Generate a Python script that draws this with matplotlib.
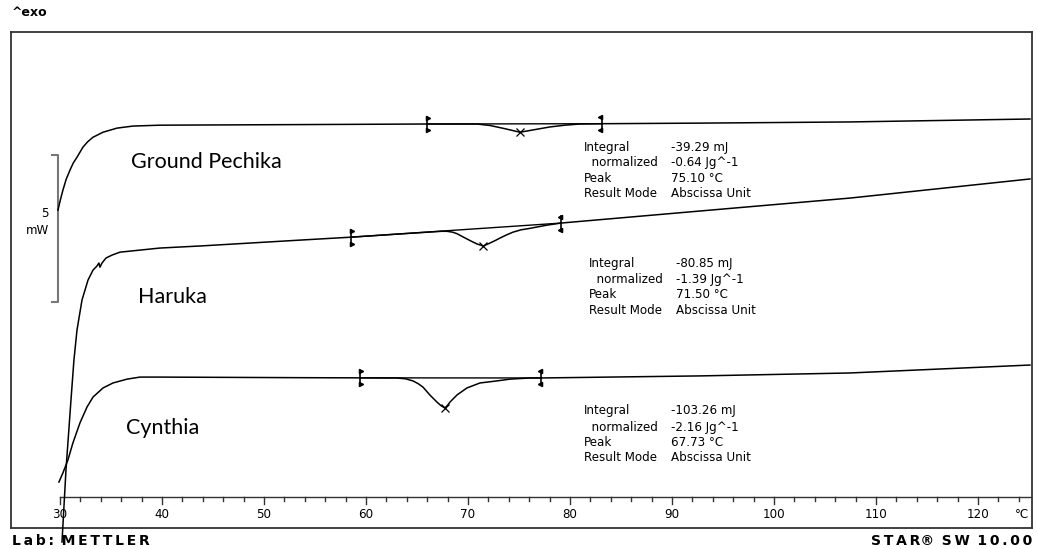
import numpy as np
import matplotlib.pyplot as plt

# heat flow curves (temperature in °C, heat flow in mW, arbitrary offset)
gp_t = [29.80, 30.05, 30.29, 30.60, 30.98, 31.30, 31.67, 32.25, 32.70, 33.24, 34.22, 35.59,
        37.16, 39.80, 53.53, 65.98, 70.88, 72.16, 73.63, 75.10, 76.57, 78.04, 79.51, 80.98,
        83.14, 92.75, 107.45, 125.10]
gp_hf = [9.76, 10.12, 10.44, 10.80, 11.12, 11.36, 11.56, 11.90, 12.08, 12.24, 12.41, 12.55,
         12.62, 12.65, 12.67, 12.69, 12.69, 12.64, 12.53, 12.41, 12.50, 12.59, 12.65, 12.69,
         12.70, 12.72, 12.76, 12.86]

ha_t = [30.20, 30.59, 31.08, 31.37, 31.67, 32.16, 32.75, 33.24, 33.63, 33.82, 33.92, 34.12,
        34.51, 35.10, 35.88, 37.84, 39.80, 43.73, 48.63, 53.53, 58.53, 63.33, 67.40, 67.94,
        68.50, 68.92, 69.40, 69.90, 70.40, 70.88, 71.50, 72.16, 72.70, 73.14, 73.80, 74.41,
        75.20, 76.08, 77.75, 79.12, 92.75, 107.45, 125.10]
ha_hf = [-1.53, 0.92, 3.30, 4.66, 5.68, 6.70, 7.38, 7.72, 7.86, 7.96, 7.82, 7.96,
         8.13, 8.23, 8.33, 8.40, 8.47, 8.54, 8.64, 8.74, 8.84, 8.95, 9.04, 9.04,
         9.01, 8.96, 8.87, 8.78, 8.69, 8.61, 8.54, 8.64, 8.73, 8.81, 8.92, 9.01,
         9.09, 9.14, 9.25, 9.32, 9.73, 10.17, 10.82]

cy_t = [29.90, 30.29, 30.78, 31.27, 31.96, 32.65, 33.24, 34.22, 35.20, 36.57, 37.84, 39.80,
        53.53, 63.04, 63.90, 64.61, 65.10, 65.59, 66.27, 66.96, 67.35, 67.73, 68.00, 68.24,
        68.92, 69.90, 71.18, 72.84, 74.12, 76.08, 77.16, 92.75, 107.45, 125.10]
cy_hf = [0.51, 0.82, 1.26, 1.84, 2.52, 3.06, 3.40, 3.71, 3.88, 4.01, 4.08, 4.08,
         4.06, 4.05, 4.02, 3.95, 3.86, 3.74, 3.47, 3.23, 3.11, 3.03, 3.12, 3.23,
         3.47, 3.71, 3.88, 3.95, 4.01, 4.05, 4.05, 4.12, 4.22, 4.49]

names = ['Ground Pechika', 'Haruka', 'Cynthia']
limits = [(66.0, 83.1), (58.5, 79.1), (59.4, 77.2)]
peaks = [75.10, 71.50, 67.73]
integrals = ['-39.29 mJ', '-80.85 mJ', '-103.26 mJ']
normalized = ['-0.64 Jg^-1', '-1.39 Jg^-1', '-2.16 Jg^-1']

fig = plt.figure(figsize=(10.37, 5.49), dpi=100)
ax = fig.add_axes([11/1037, 21/549, 1021/1037, 496/549])
ax.set_xlim(25.2, 125.3)
ax.set_ylim(-1.054, 15.82)
ax.set_xticks([])
ax.set_yticks([])
for s in ax.spines.values():
    s.set_color('#333333')
    s.set_linewidth(1.3)

curves = [(gp_t, gp_hf), (ha_t, ha_hf), (cy_t, cy_hf)]
for (t, hf), (t1, t2), pk in zip(curves, limits, peaks):
    ax.plot(t, hf, color='black', lw=1.1, clip_on=False, zorder=3)
    y1, y2 = np.interp([t1, t2], t, hf)
    ax.plot([t1, t2], [y1, y2], color='black', lw=1.0, zorder=3)
    # integration limit brackets
    for tx, yy, m, d in [(t1, y1, '>', 0.12), (t2, y2, '<', -0.12)]:
        ax.plot([tx, tx], [yy - 0.24, yy + 0.24], color='black', lw=1.2)
        ax.plot([tx + d, tx + d], [yy - 0.22, yy + 0.22], ls='none', marker=m,
                ms=3, color='black')
    ax.plot(pk, np.interp(pk, t, hf), marker='x', ms=6, mew=0.9, color='black', zorder=4)

# sample names
name_pos = [(36.96, 11.39), (37.65, 6.80), (36.47, 2.35)]
for n, (x, y) in zip(names, name_pos):
    ax.text(x, y, n, fontsize=15.5, family='Lato', va='center', ha='left')

# result blocks
blocks = [(81.37, 89.90, [11.90, 11.39, 10.85, 10.31]),
          (81.86, 90.39, [7.96, 7.41, 6.90, 6.36]),
          (81.37, 89.90, [2.93, 2.38, 1.87, 1.33])]
for (xl, xv, rows), ig, nm, pk in zip(blocks, integrals, normalized, peaks):
    labels = ['Integral', '  normalized', 'Peak', 'Result Mode']
    vals = [ig, nm, '%.2f °C' % pk, 'Abscissa Unit']
    for lab, v, y in zip(labels, vals, rows):
        ax.text(xl, y, lab, fontsize=8.6, va='center', ha='left')
        ax.text(xv, y, v, fontsize=8.6, va='center', ha='left')

# temperature axis
ax.plot([30, 125.2], [0, 0], color='#333333', lw=1.0, clip_on=False)
for tk in range(30, 126, 2):
    ln = 0.24 if tk % 10 == 0 else 0.14
    ax.plot([tk, tk], [0, -ln], color='#333333', lw=1.0)
for tk in range(30, 121, 10):
    ax.text(tk, -0.58, str(tk), fontsize=8.6, ha='center', va='center')
ax.text(124.3, -0.58, '°C', fontsize=8.6, ha='center', va='center')

# 5 mW scale bar
ax.plot([29.2, 29.8, 29.8, 29.2], [11.63, 11.63, 6.63, 6.63], color='#777777', lw=1.5)
ax.text(28.9, 9.66, '5', fontsize=8.6, ha='right', va='center')
ax.text(28.9, 9.05, 'mW', fontsize=8.6, ha='right', va='center')

fig.text(12/1037, 1 - 13/549, '^exo', fontsize=9, weight='bold', ha='left', va='center')
fig.text(12/1037, 1 - 541/549, 'L\u2009a\u2009b\u2009:\u2009 M\u2009E\u2009T\u2009T\u2009L\u2009E\u2009R',
         fontsize=10, weight='bold', family='DejaVu Sans', ha='left', va='center')
fig.text(1032/1037, 1 - 541/549, 'S\u2009T\u2009A\u2009R\u00ae\u2009 S\u2009W\u2009 1\u20090\u2009.\u20090\u20090',
         fontsize=10, weight='bold', family='DejaVu Sans', ha='right', va='center')

fig.savefig('out.png', dpi=100)
